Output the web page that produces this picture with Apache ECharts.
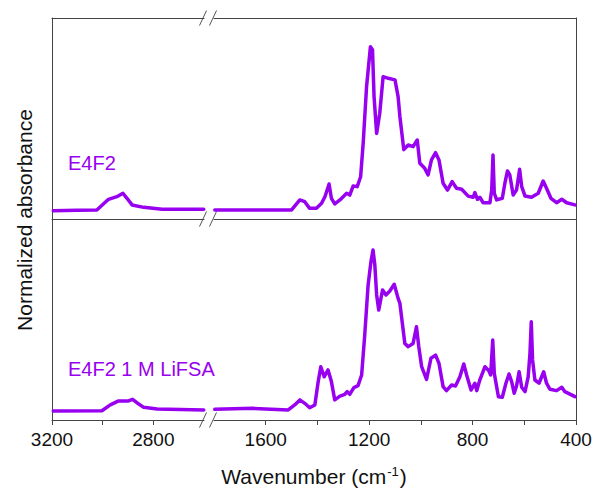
<!DOCTYPE html>
<html>
<head>
<meta charset="utf-8">
<script src="https://cdn.jsdelivr.net/npm/echarts@6/dist/echarts.min.js"></script>
<style>
html,body{margin:0;padding:0;background:#fff;}
#chart{width:596px;height:491px;}
</style>
</head>
<body>
<div id="chart"></div>
<script>
// ---------- data (wavenumber in cm-1, normalized absorbance) ----------
const wnE4F2 = [3195,3100,3023,2977,2944,2920,2904,2884,2838,2765,2601,
  1797,1558,1500,1468,1449,1430,1404,1384,1371,1355,1346,1333,1313,1287,1275,1262,1246,1233,1223,1210,1195,1187,1181,1171,1159,1146,1126,1100,1088,1081,1066,1049,1030,1014,1004,985,972,959,943,930,914,897,879,862,842,817,798,791,781,772,759,733,726,721,716,707,685,675,665,656,643,630,618,610,597,572,546,527,514,497,475,455,436,404];
const absE4F2 = [0.041,0.043,0.045,0.098,0.111,0.128,0.103,0.070,0.058,0.048,0.048,
  0.045,0.045,0.045,0.095,0.086,0.053,0.053,0.078,0.111,0.174,0.103,0.075,0.095,0.128,0.119,0.164,0.161,0.210,0.377,0.658,0.857,0.842,0.609,0.426,0.526,0.708,0.700,0.692,0.609,0.509,0.345,0.368,0.360,0.393,0.277,0.252,0.219,0.294,0.330,0.294,0.178,0.144,0.186,0.153,0.148,0.114,0.108,0.131,0.098,0.108,0.081,0.081,0.144,0.318,0.128,0.095,0.103,0.178,0.239,0.219,0.119,0.144,0.247,0.161,0.114,0.108,0.128,0.189,0.153,0.103,0.081,0.098,0.081,0.070];

const wnLiFSA = [3195,3003,2970,2937,2898,2882,2865,2838,2785,2601,
  1797,1649,1513,1488,1468,1449,1430,1410,1397,1387,1374,1359,1346,1333,1313,1294,1285,1275,1259,1243,1229,1217,1204,1193,1185,1178,1171,1163,1148,1135,1120,1103,1088,1081,1062,1049,1030,1017,1008,997,978,961,943,930,914,901,881,866,849,834,823,806,791,784,772,752,737,730,722,716,700,685,671,659,649,639,630,620,610,597,585,578,573,568,559,543,525,514,501,475,455,443,404];
const absLiFSA = [0.045,0.046,0.075,0.095,0.095,0.103,0.086,0.063,0.055,0.050,
  0.053,0.058,0.050,0.075,0.100,0.083,0.061,0.075,0.191,0.265,0.215,0.249,0.191,0.100,0.119,0.128,0.141,0.128,0.161,0.171,0.224,0.423,0.672,0.788,0.846,0.771,0.622,0.547,0.647,0.622,0.642,0.675,0.605,0.580,0.381,0.365,0.381,0.464,0.365,0.265,0.202,0.307,0.323,0.282,0.166,0.146,0.174,0.169,0.215,0.279,0.224,0.149,0.183,0.146,0.199,0.265,0.245,0.224,0.398,0.232,0.116,0.113,0.183,0.229,0.191,0.133,0.169,0.240,0.163,0.141,0.215,0.332,0.489,0.299,0.199,0.183,0.240,0.183,0.153,0.146,0.163,0.141,0.116];

const seriesLabels = ['E4F2', 'E4F2 1 M LiFSA'];
const highRange = [2600, 3200];
const lowRange = [400, 1800];
const highTicks = [3200, 3000, 2800];
const highTickLabels = [3200, 2800];
const lowTicks = [1600, 1400, 1200, 1000, 800, 600, 400];
const lowTickLabels = [1600, 1200, 800, 400];

// ---------- layout ----------
const L = 52, BL = 204, BR = 214, R = 576, T = 18, M = 219, B = 420;
const PURPLE = '#9800f0';
const AX = '#444444';
const FONT = 'Liberation Sans, Arial, sans-serif';

function pairs(wn, ab, lo, hi) {
  const out = [];
  for (let i = 0; i < wn.length; i++) {
    if (wn[i] >= lo && wn[i] <= hi) out.push([wn[i], ab[i]]);
  }
  return out;
}

const grids = [
  {left: L, top: T, width: BL - L, height: M - T},
  {left: BR, top: T, width: R - BR, height: M - T},
  {left: L, top: M, width: BL - L, height: B - M},
  {left: BR, top: M, width: R - BR, height: B - M}
];

function xAx(gi, range, opts) {
  return Object.assign({
    type: 'value', gridIndex: gi, min: range[0], max: range[1], inverse: true,
    position: 'bottom',
    axisLine: {show: true, onZero: false, lineStyle: {color: AX, width: 1}},
    axisTick: {show: false}, axisLabel: {show: false}, splitLine: {show: false}
  }, opts || {});
}

const plainFmt = function (v) { return String(v); };

const xAxes = [
  xAx(0, highRange), xAx(1, lowRange),
  xAx(0, highRange, {position: 'top'}), xAx(1, lowRange, {position: 'top'}),
  xAx(2, highRange, {
    interval: 200,
    axisTick: {show: true, inside: false, length: 5, lineStyle: {color: AX}, customValues: highTicks},
    axisLabel: {show: true, margin: 10, color: '#111', fontSize: 19, fontFamily: FONT, customValues: highTickLabels, formatter: plainFmt}
  }),
  xAx(3, lowRange, {
    interval: 200,
    axisTick: {show: true, inside: false, length: 5, lineStyle: {color: AX}, customValues: lowTicks},
    axisLabel: {show: true, margin: 10, color: '#111', fontSize: 19, fontFamily: FONT, customValues: lowTickLabels, formatter: plainFmt}
  })
];

function yAx(gi, pos) {
  return {
    type: 'value', gridIndex: gi, min: 0, max: 1, position: pos,
    axisLine: {show: true, onZero: false, lineStyle: {color: AX, width: 1}},
    axisTick: {show: false}, axisLabel: {show: false}, splitLine: {show: false}
  };
}
const yAxes = [yAx(0, 'left'), yAx(1, 'right'), yAx(2, 'left'), yAx(3, 'right')];

function line(data, xi, yi) {
  return {
    type: 'line', xAxisIndex: xi, yAxisIndex: yi, data: data,
    showSymbol: false, symbol: 'none', clip: true, animation: false,
    lineStyle: {color: PURPLE, width: 3.5, join: 'round', cap: 'round'}
  };
}

const series = [
  line(pairs(wnE4F2, absE4F2, highRange[0], highRange[1]), 0, 0),
  line(pairs(wnE4F2, absE4F2, lowRange[0], lowRange[1]), 1, 1),
  line(pairs(wnLiFSA, absLiFSA, highRange[0], highRange[1]), 4, 2),
  line(pairs(wnLiFSA, absLiFSA, lowRange[0], lowRange[1]), 5, 3)
];

// break marks "//"
const graphics = [];
[T, M, B].forEach(function (yy) {
  [BL - 1, BR - 1].forEach(function (xx) {
    graphics.push({
      type: 'line', silent: true,
      shape: {x1: xx - 3.5, y1: yy + 7.5, x2: xx + 3.5, y2: yy - 7.5},
      style: {stroke: '#555', lineWidth: 1}
    });
  });
});
// series labels
graphics.push({type: 'text', left: 68, top: 153, style: {text: seriesLabels[0], fill: PURPLE, font: '20px ' + FONT}});
graphics.push({type: 'text', left: 68, top: 359, style: {text: seriesLabels[1], fill: PURPLE, font: '20px ' + FONT}});
// axis titles
graphics.push({
  type: 'text', x: 24, y: 220, rotation: Math.PI / 2,
  style: {text: 'Normalized absorbance', fill: '#111', font: '21px ' + FONT, align: 'center', verticalAlign: 'middle'}
});
graphics.push({
  type: 'text', x: 314, y: 476,
  style: {
    text: 'Wavenumber (cm{sup|-1})', fill: '#111', font: '21px ' + FONT,
    align: 'center', verticalAlign: 'middle',
    rich: {sup: {fontSize: 13, fontFamily: FONT, fill: '#111', verticalAlign: 'top', padding: [0, 1, 10, 1]}}
  }
});

const chart = echarts.init(document.getElementById('chart'), null, {renderer: 'svg'});
chart.setOption({
  animation: false,
  backgroundColor: '#ffffff',
  grid: grids,
  xAxis: xAxes,
  yAxis: yAxes,
  series: series,
  graphic: graphics
});
</script>
</body>
</html>
